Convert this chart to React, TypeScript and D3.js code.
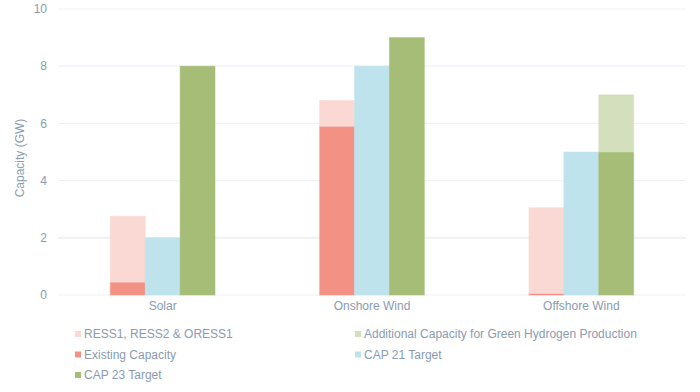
import React from "react";
import * as d3 from "d3";

const categories = ["Solar", "Onshore Wind", "Offshore Wind"];
const existingCapacity = [0.45, 5.9, 0.05];
const ressIncrement = [2.3, 0.9, 3.0];
const cap21Target = [2, 8, 5];
const cap23Target = [8, 9, 5];
const additionalGreenH2 = [0, 0, 2];
const yTicks = [0, 2, 4, 6, 8, 10];

const colors = {
  ress: "#fad8d3",
  existing: "#f29184",
  cap21: "#bfe3ec",
  cap23: "#a6bd77",
  addH2: "#d4e0bd",
};

const legendItems = [
  { label: "RESS1, RESS2 & ORESS1", color: colors.ress, col: 0, row: 0 },
  { label: "Additional Capacity for Green Hydrogen Production", color: colors.addH2, col: 1, row: 0 },
  { label: "Existing Capacity", color: colors.existing, col: 0, row: 1 },
  { label: "CAP 21 Target", color: colors.cap21, col: 1, row: 1 },
  { label: "CAP 23 Target", color: colors.cap23, col: 0, row: 2 },
];

export default function App() {
  const W = 700, H = 392;
  const left = 58, right = 686, top = 9, bottom = 295;
  const x = d3.scaleBand<string>().domain(categories).range([left, right]).padding(0);
  const y = d3.scaleLinear().domain([0, 10]).range([bottom, top]);
  const sub = d3.scaleBand<number>().domain([0, 1, 2]).range([0, x.bandwidth() * 0.5]);
  const font = "'Liberation Sans', Arial, sans-serif";
  const textColor = "#8a9bb0";

  const rects: { x: number; y0: number; y1: number; color: string; key: string }[] = [];
  categories.forEach((c, i) => {
    const gx = (x(c) as number) + x.bandwidth() * 0.25;
    const bw = sub.bandwidth();
    rects.push({ key: c + "e", x: gx + (sub(0) as number), y0: 0, y1: existingCapacity[i], color: colors.existing });
    rects.push({ key: c + "r", x: gx + (sub(0) as number), y0: existingCapacity[i], y1: existingCapacity[i] + ressIncrement[i], color: colors.ress });
    rects.push({ key: c + "c21", x: gx + (sub(1) as number), y0: 0, y1: cap21Target[i], color: colors.cap21 });
    rects.push({ key: c + "c23", x: gx + (sub(2) as number), y0: 0, y1: cap23Target[i], color: colors.cap23 });
    if (additionalGreenH2[i] > 0)
      rects.push({ key: c + "h2", x: gx + (sub(2) as number), y0: cap23Target[i], y1: cap23Target[i] + additionalGreenH2[i], color: colors.addH2 });
    void bw;
  });

  return (
    <svg width={W} height={H} style={{ position: "absolute", left: 0, top: 0, background: "#fff" }}>
      {yTicks.map((t) => (
        <g key={t}>
          <line x1={left} x2={right} y1={y(t)} y2={y(t)} stroke={t === 2 ? "#e6ebf1" : "#eef2f7"} strokeWidth={1.2} />
          <text x={47} y={y(t)} dy="0.35em" textAnchor="end" fontFamily={font} fontSize={12} fill={textColor}>
            {t}
          </text>
        </g>
      ))}
      <text
        transform={`translate(24,${(top + bottom) / 2 + 6}) rotate(-90)`}
        textAnchor="middle"
        fontFamily={font}
        fontSize={12}
        fill={textColor}
      >
        Capacity (GW)
      </text>
      {rects.map((r) => (
        <rect
          key={r.key}
          x={r.x}
          width={sub.bandwidth()}
          y={y(r.y1)}
          height={y(r.y0) - y(r.y1)}
          fill={r.color}
          stroke={r.color}
          strokeOpacity={0.5}
          strokeWidth={1}
        />
      ))}
      {categories.map((c) => (
        <text
          key={c}
          x={(x(c) as number) + x.bandwidth() / 2}
          y={310}
          textAnchor="middle"
          fontFamily={font}
          fontSize={12}
          fill={textColor}
        >
          {c}
        </text>
      ))}
      {legendItems.map((l) => {
        const lx = l.col === 0 ? 75 : 355;
        const ly = 334 + l.row * 20.5;
        return (
          <g key={l.label}>
            <rect x={lx} y={ly - 3} width={6} height={6} fill={l.color} />
            <text x={lx + 9} y={ly} dy="0.35em" fontFamily={font} fontSize={12} fill={textColor}>
              {l.label}
            </text>
          </g>
        );
      })}
    </svg>
  );
}
